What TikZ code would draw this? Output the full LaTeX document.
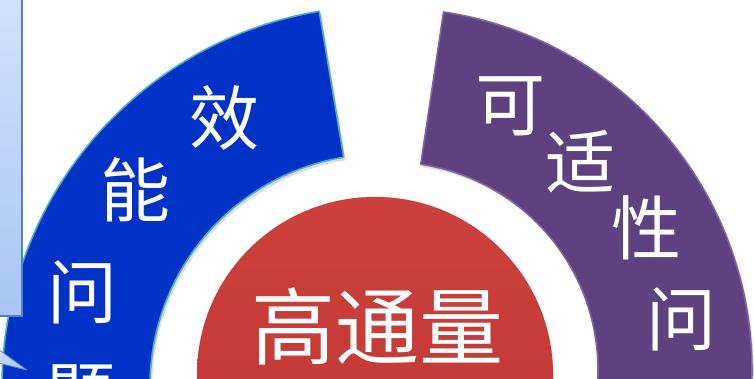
\documentclass[tikz,border=0pt]{standalone}
\usepackage{fontspec}
\newfontfamily\cjk{Noto Sans CJK SC}
\usetikzlibrary{shadows}
\definecolor{secblue}{RGB}{0,50,200}
\definecolor{secteal}{RGB}{75,172,198}
\definecolor{secpurple}{RGB}{94,66,128}
\definecolor{secpurpleb}{RGB}{128,100,162}
\definecolor{redtop}{RGB}{206,64,60}
\definecolor{redbot}{RGB}{188,54,50}
\definecolor{calltop}{RGB}{210,226,251}
\definecolor{callbot}{RGB}{168,198,244}
\definecolor{callborder}{RGB}{85,130,190}
\tikzset{
  sector/.style={line width=1.6pt, line join=round, drop shadow={opacity=0.25, shadow xshift=2pt, shadow yshift=-3pt}},
  seclabel/.style={text=white, font=\cjk\fontsize{70}{70}\selectfont, inner sep=0pt},
  biglabel/.style={text=white, font=\cjk\fontsize{84}{84}\selectfont, inner sep=0pt},
}
\begin{document}
\begin{tikzpicture}[x=1pt,y=1pt]
\useasboundingbox (0,0) rectangle (754,378);
\clip (0,0) rectangle (754,378);
\fill[white] (0,0) rectangle (754,378);
% centres
\coordinate (cb) at (382,-8);
\coordinate (cp) at (390,8);
\coordinate (cr) at (375,3);
% blue sector
\path[sector, fill=secblue, draw=secteal]
  ([shift={(cb)}]99.5:380) arc[start angle=99.5, end angle=200, radius=380]
  -- ([shift={(cb)}]200:232) arc[start angle=200, end angle=99.5, radius=232] -- cycle;
% purple sector
\path[sector, fill=secpurple, draw=secpurpleb]
  ([shift={(cp)}]81.5:362) arc[start angle=81.5, end angle=-20, radius=362]
  -- ([shift={(cp)}]-20:208) arc[start angle=-20, end angle=81.5, radius=208] -- cycle;
% red circle
\fill[white, drop shadow={opacity=0.2, shadow xshift=0pt, shadow yshift=-2pt}] (cr) circle[radius=181];
\shade[top color=redtop, bottom color=redbot, draw=redbot!80!black, draw opacity=0.3, line width=0.6pt] (cr) circle[radius=178];
% labels
\node[seclabel] (l1) at (224,260) {效};
\node[seclabel] (l2) at (135,188) {能};
\node[seclabel] (l3) at (82,86) {问};
\node[seclabel] (l4) at (80,-17) {题};
\node[seclabel] (r1) at (510,272) {可};
\node[seclabel] (r2) at (580,216) {适};
\node[seclabel] (r3) at (646,150) {性};
\node[seclabel] (r4) at (681,59) {问};
\node[biglabel] (c1) at (377,52) {高通量};
% callout
\shade[top color=calltop, bottom color=callbot, draw=callborder, line width=1.2pt]
  (-10,62) rectangle (22,390);
\shade[top color=calltop, bottom color=callbot, draw=callborder, line width=0.8pt, line join=round]
  (-2,29) -- (27,8) -- (-2,15) -- cycle;
\end{tikzpicture}
\end{document}
